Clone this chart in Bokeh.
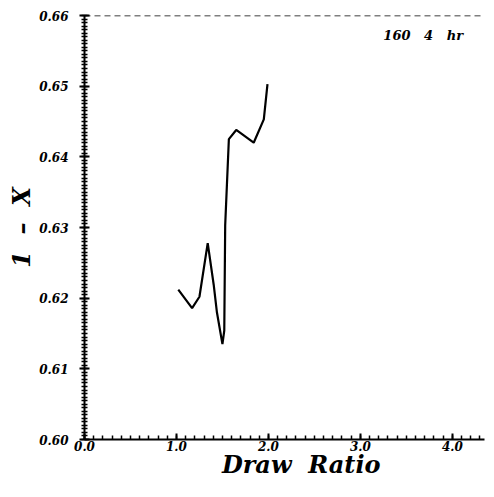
from bokeh.plotting import figure
from bokeh.models import Span, Label, FixedTicker
from bokeh.embed import file_html
from bokeh.resources import INLINE

draw_ratio = [1.02, 1.17, 1.25, 1.34, 1.405, 1.44, 1.50, 1.52, 1.53, 1.57, 1.65, 1.84, 1.95, 1.99]
one_minus_x = [0.6212, 0.6186, 0.6202, 0.6278, 0.6219, 0.6180, 0.6135, 0.6154, 0.6303, 0.6425, 0.6438, 0.6420, 0.6453, 0.6503]
x_ticks = [0.0, 1.0, 2.0, 3.0, 4.0]
y_ticks = [0.60, 0.61, 0.62, 0.63, 0.64, 0.65, 0.66]

NB = "\u00a0"

p = figure(width=486, height=481, output_backend="svg", toolbar_location=None,
           x_range=(0, 4.35), y_range=(0.60, 0.66),
           min_border_left=84, min_border_right=2, min_border_top=15, min_border_bottom=38)
p.outline_line_color = None
p.grid.visible = False
p.background_fill_color = "white"

p.line(draw_ratio, one_minus_x, line_color="black", line_width=2.2)

tick_font = "DejaVu Serif"
label_font = "DejaVu Serif"
for ax in (p.xaxis[0], p.yaxis[0]):
    ax.axis_line_color = "black"
    ax.axis_line_width = 2
    ax.major_tick_line_color = "black"
    ax.major_tick_line_width = 2
    ax.minor_tick_line_color = "black"
    ax.minor_tick_line_width = 1.5
    ax.major_label_text_font = tick_font
    ax.major_label_text_font_style = "bold italic"
    ax.major_label_text_font_size = "12px"
    ax.major_label_text_color = "black"

p.xaxis.ticker = FixedTicker(ticks=x_ticks, minor_ticks=[i * 0.1 for i in range(0, 44)])
p.yaxis.ticker = FixedTicker(ticks=y_ticks, minor_ticks=[0.60 + i * 0.0005 for i in range(0, 121)])
p.xaxis.major_label_overrides = {t: f"{t:.1f}" for t in x_ticks}
p.yaxis.major_label_overrides = {t: f"{t:.2f}" for t in y_ticks}
p.xaxis.major_tick_in = 6
p.xaxis.major_tick_out = 0
p.xaxis.minor_tick_in = 4
p.xaxis.minor_tick_out = 0
p.yaxis.major_tick_in = 5
p.yaxis.major_tick_out = 5
p.yaxis.minor_tick_in = 3
p.yaxis.minor_tick_out = 3
p.xaxis.major_label_standoff = 1
p.yaxis.major_label_standoff = 11

p.xaxis.axis_label = NB * 4 + "Draw" + NB * 2 + "Ratio"
p.xaxis.axis_label_text_font = label_font
p.xaxis.axis_label_text_font_style = "bold italic"
p.xaxis.axis_label_text_font_size = "24px"
p.xaxis.axis_label_text_color = "black"
p.xaxis.axis_label_standoff = -4

p.yaxis.axis_label = "1" + NB * 2 + "\u2013" + NB * 2 + "X"
p.yaxis.axis_label_text_font = label_font
p.yaxis.axis_label_text_font_style = "bold italic"
p.yaxis.axis_label_text_font_size = "24px"
p.yaxis.axis_label_text_color = "black"
p.yaxis.axis_label_standoff = 0

p.add_layout(Span(location=0.66, dimension="width", line_color="black",
                  line_width=1.5, line_dash="6 4"))

p.add_layout(Label(x=3.25, y=0.6572, text="160" + NB * 3 + "4" + NB * 3 + "hr",
                   text_font=label_font, text_font_style="bold italic",
                   text_font_size="13px", text_align="left", text_baseline="middle",
                   text_color="black"))

open("out.html", "w").write(file_html(p, INLINE))
